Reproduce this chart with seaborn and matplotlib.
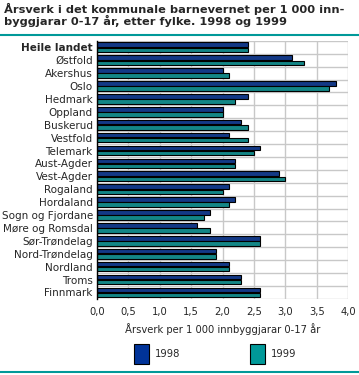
import matplotlib
matplotlib.use("Agg")
import matplotlib.pyplot as plt
import seaborn as sns
import pandas as pd
from matplotlib.patches import Patch
from matplotlib.lines import Line2D

fylker = ["Heile landet", "Østfold", "Akershus", "Oslo", "Hedmark", "Oppland",
          "Buskerud", "Vestfold", "Telemark", "Aust-Agder", "Vest-Agder",
          "Rogaland", "Hordaland", "Sogn og Fjordane", "Møre og Romsdal",
          "Sør-Trøndelag", "Nord-Trøndelag", "Nordland", "Troms", "Finnmark"]
v1998 = [2.4, 3.1, 2.0, 3.8, 2.4, 2.0, 2.3, 2.1, 2.6, 2.2, 2.9,
         2.1, 2.2, 1.8, 1.6, 2.6, 1.9, 2.1, 2.3, 2.6]
v1999 = [2.4, 3.3, 2.1, 3.7, 2.2, 2.0, 2.4, 2.4, 2.5, 2.2, 3.0,
         2.0, 2.1, 1.7, 1.8, 2.6, 1.9, 2.1, 2.3, 2.6]
years = ["1998", "1999"]
farger = ["#003399", "#009999"]

df = pd.DataFrame({
    "fylke": fylker * 2,
    "aar": [years[0]] * len(fylker) + [years[1]] * len(fylker),
    "verdi": v1998 + v1999,
})

sns.set_style("white")
plt.rcParams["font.family"] = ["DejaVu Sans"]

fig = plt.figure(figsize=(3.59, 3.75), dpi=100)
ax = fig.add_axes([0.27, 0.203, 0.70, 0.688])

sns.barplot(data=df, y="fylke", x="verdi", hue="aar", order=fylker,
            palette=farger, width=0.8, gap=0.12, edgecolor="black", linewidth=0.8,
            ax=ax, legend=False)

ax.set_xlim(0, 4.0)
ax.set_ylim(len(fylker) - 0.5, -0.5)
ax.set_xticks([i * 0.5 for i in range(9)])
ax.set_xticklabels([f"{i * 0.5:.1f}".replace(".", ",") for i in range(9)], fontsize=7.2)
ax.set_yticks(range(len(fylker)))
ax.set_yticklabels(fylker, fontsize=7.5)
ax.get_yticklabels()[0].set_fontweight("bold")
ax.set_ylabel("")
ax.set_xlabel("Årsverk per 1 000 innbyggjarar 0-17 år", fontsize=7.2, labelpad=4)

# grid between categories and at the x ticks
for k in range(len(fylker) + 1):
    ax.axhline(k - 0.5, color="#c8c8c8", lw=1, zorder=0)
for t in ax.get_xticks():
    ax.axvline(t, color="#c8c8c8", lw=1, zorder=0)
ax.set_axisbelow(True)
for s in ["top", "right", "bottom"]:
    ax.spines[s].set_visible(False)
ax.spines["left"].set_color("black")
ax.spines["left"].set_linewidth(1)
ax.tick_params(axis="y", length=0, pad=3)
ax.tick_params(axis="x", length=0, pad=6)

fig.text(0.01, 0.992, "Årsverk i det kommunale barnevernet per 1 000 inn-\nbyggjarar 0-17 år, etter fylke. 1998 og 1999",
         fontsize=8.2, fontweight="bold", va="top", ha="left", linespacing=1.0)
fig.add_artist(Line2D([0, 1], [0.906, 0.906], color="#009999", lw=1.5))
fig.add_artist(Line2D([0, 1], [0.007, 0.007], color="#009999", lw=1.5))

handles = [Patch(facecolor=c, edgecolor="black", lw=0.8) for c in farger]
fig.legend(handles, years, loc="center", bbox_to_anchor=(0.6, 0.056), ncol=2,
           frameon=False, fontsize=7.2, handlelength=1.5, handleheight=2.6,
           columnspacing=7.0, handletextpad=0.6)

fig.savefig("out.png", dpi=100)
